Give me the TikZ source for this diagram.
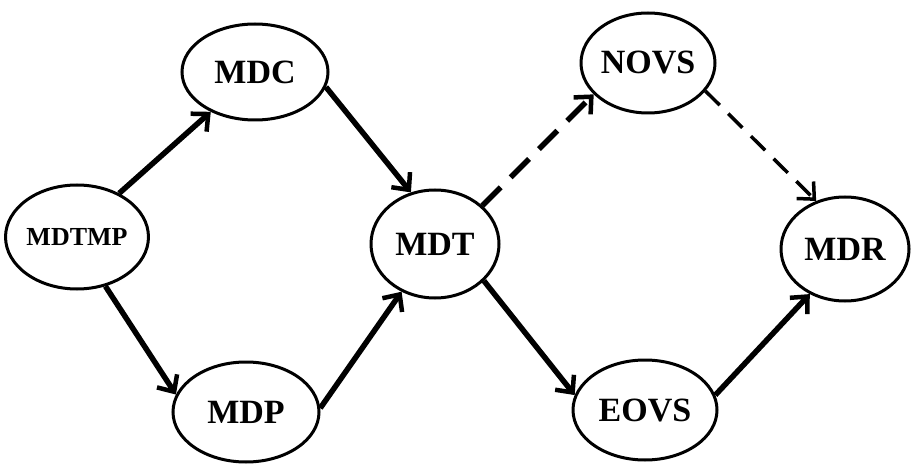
\documentclass[tikz,border=0pt]{standalone}
\usepackage{fontspec}
\setmainfont{Liberation Serif}
\usetikzlibrary{shapes.geometric,arrows.meta}
\begin{document}
\begin{tikzpicture}[x=1pt,y=-1pt,
  st/.style={ellipse,draw,line width=3pt,inner sep=0pt,font=\bfseries\fontsize{34}{40}\selectfont},
  conn/.style={line width=5.5pt,-{Straight Barb[length=13pt,width=24pt,line width=4.5pt]}},
  dconn/.style={conn,dash pattern=on 26pt off 14pt},
  tconn/.style={line width=3.5pt,dash pattern=on 20pt off 12pt,-{Straight Barb[length=13pt,width=24pt,line width=3.5pt]}}]
\useasboundingbox (0,0) rectangle (915,470);
\node[st,minimum width=138pt,minimum height=104pt,font=\bfseries\fontsize{26}{30}\selectfont] (mdtmp) at (77,237) {MDTMP};
\node[st,minimum width=146pt,minimum height=96pt] (mdc) at (255,72) {MDC};
\node[st,minimum width=146pt,minimum height=100pt] (mdp) at (246,412) {MDP};
\node[st,minimum width=128pt,minimum height=108pt] (mdt) at (435,244) {MDT};
\node[st,minimum width=134pt,minimum height=100pt] (novs) at (648,63) {NOVS};
\node[st,minimum width=144pt,minimum height=100pt] (eovs) at (645,410) {EOVS};
\node[st,minimum width=128pt,minimum height=104pt] (mdr) at (845,249) {MDR};
\draw[conn] (mdtmp.46) -- (mdc.222);
\draw[conn] (mdtmp.-60) -- (mdp.166);
\draw[conn] (mdc.-12) -- (mdt.115);
\draw[conn] (mdp.3) -- (mdt.235);
\draw[dconn] (mdt.39) -- (novs.210);
\draw[conn] (mdt.-37) -- (eovs.168);
\draw[tconn] (novs.-26) -- (mdr.121);
\draw[conn] (eovs.12) -- (mdr.232);
\end{tikzpicture}
\end{document}
